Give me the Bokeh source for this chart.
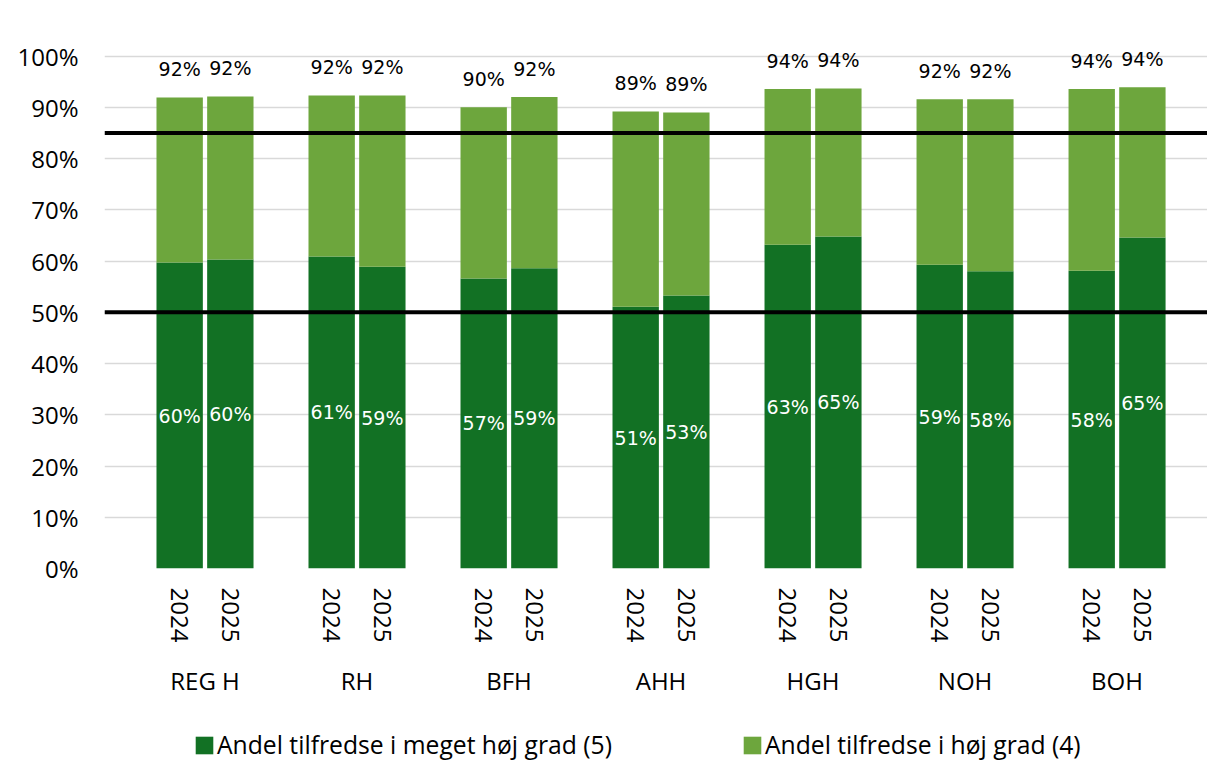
import math
from bokeh.plotting import figure
from bokeh.layouts import column
from bokeh.models import (ColumnDataSource, FixedTicker, LinearAxis, Span, Legend,
                          LegendItem, PrintfTickFormatter, Range1d)
from bokeh.embed import file_html
from bokeh.resources import INLINE
from bokeh.core.properties import value

# ---------------- data ----------------
groups = ["REG H", "RH", "BFH", "AHH", "HGH", "NOH", "BOH"]
years = ["2024", "2025"]
# share (%) "Andel tilfredse i meget høj grad (5)"
grade5_2024 = [59.7, 60.9, 56.6, 51.1, 63.2, 59.3, 58.1]
grade5_2025 = [60.3, 58.9, 58.6, 53.3, 64.8, 58.0, 64.6]
# share (%) "Andel tilfredse i høj grad (4)"
grade4_2024 = [32.2, 31.4, 33.4, 38.1, 30.4, 32.3, 35.5]
grade4_2025 = [31.8, 33.4, 33.4, 35.7, 28.9, 33.6, 29.3]
series_names = ["Andel tilfredse i meget høj grad (5)", "Andel tilfredse i høj grad (4)"]
ref_lines = [50, 85]
y_ticks = list(range(0, 101, 10))

DARK = "#127124"
LIGHT = "#6DA63D"
AX_FONT = "Open Sans"
LBL_FONT = "DejaVu Sans"

# ---------------- build sources ----------------
xs, v5, v4, tot, yr = [], [], [], [], []
for g in range(len(groups)):
    for k, (a5, a4) in enumerate([(grade5_2024[g], grade4_2024[g]),
                                  (grade5_2025[g], grade4_2025[g])]):
        xs.append(6 * g + (2 * k - 1))
        v5.append(a5)
        v4.append(a4)
        tot.append(a5 + a4)
        yr.append(years[k])

src = ColumnDataSource(dict(
    x=xs, v5=v5, v4=v4, tot=tot,
    mid5=[v / 2 for v in v5],
    top_lbl=[t + 5.5 for t in tot],
    lbl5=["%d%%" % int(round(v)) for v in v5],
    lbltot=["%d%%" % int(round(t)) for t in tot],
))

W = 1207
H_MAIN = 700
H_LEG = 61

p = figure(width=W, height=H_MAIN, output_backend="svg", toolbar_location=None,
           x_range=Range1d(-3.967, 39.57), y_range=Range1d(0, 105),
           min_border_left=104, min_border_right=0, min_border_top=30,
           min_border_bottom=H_MAIN - 568)
p.outline_line_color = None
p.background_fill_color = "white"
p.border_fill_color = "white"

bar_kw = dict(x="x", width=1.83, source=src, line_color=None)
r5 = p.vbar(bottom=0, top="v5", fill_color=DARK, **bar_kw)
r4 = p.vbar(bottom="v5", top="tot", fill_color=LIGHT, **bar_kw)

for loc in ref_lines:
    p.add_layout(Span(location=loc, dimension="width", line_color="black", line_width=4))

p.text(x="x", y="mid5", text="lbl5", source=src, text_color="white",
       text_align="center", text_baseline="middle",
       text_font=value(LBL_FONT), text_font_size="19px")
p.text(x="x", y="top_lbl", text="lbltot", source=src, text_color="black",
       text_align="center", text_baseline="middle",
       text_font=value(LBL_FONT), text_font_size="19px")

# grid
p.xgrid.grid_line_color = None
p.ygrid.grid_line_color = "#d9d9d9"
p.ygrid.grid_line_width = 1.5


def style_axis(ax, standoff):
    ax.axis_line_color = None
    ax.major_tick_line_color = None
    ax.minor_tick_line_color = None
    ax.major_tick_out = 0
    ax.major_tick_in = 0
    ax.major_label_standoff = standoff
    ax.major_label_text_font = AX_FONT
    ax.major_label_text_font_size = "24px"
    ax.major_label_text_color = "black"


# y axis
ya = p.yaxis[0]
ya.ticker = FixedTicker(ticks=y_ticks)
ya.formatter = PrintfTickFormatter(format="%d%%")
style_axis(ya, 26)

# x axis: years
xa = p.xaxis[0]
xa.ticker = FixedTicker(ticks=xs)
xa.major_label_overrides = {x: y for x, y in zip(xs, yr)}
xa.major_label_orientation = -math.pi / 2
style_axis(xa, 19)

# x axis: groups
gx = [6 * g for g in range(len(groups))]
ga = LinearAxis(ticker=FixedTicker(ticks=gx),
                major_label_overrides={x: n for x, n in zip(gx, groups)})
style_axis(ga, 18)
p.add_layout(ga, "below")

# ---------------- legend strip (renderers kept outside its visible range) ----------------
q = figure(width=W, height=H_LEG, output_backend="svg", toolbar_location=None,
           x_range=Range1d(-3.967, 39.57), y_range=Range1d(200, 210),
           x_axis_type=None, y_axis_type=None, min_border=0)
q.outline_line_color = None
q.xgrid.grid_line_color = None
q.ygrid.grid_line_color = None
l5 = q.vbar(bottom=0, top="v5", fill_color=DARK, **bar_kw)
l4 = q.vbar(bottom="v5", top="tot", fill_color=LIGHT, **bar_kw)
legend = Legend(items=[LegendItem(label=series_names[0], renderers=[l5]),
                       LegendItem(label=series_names[1], renderers=[l4])],
                orientation="horizontal", location=(89, 0),
                glyph_width=22, glyph_height=22, label_standoff=2, spacing=129,
                padding=0, margin=0, border_line_color=None,
                background_fill_alpha=0,
                label_text_font=AX_FONT, label_text_font_size="24.7px",
                label_text_color="black")
q.add_layout(legend, "center")

layout = column(p, q, spacing=0)
open("out.html", "w").write(file_html(layout, INLINE))
